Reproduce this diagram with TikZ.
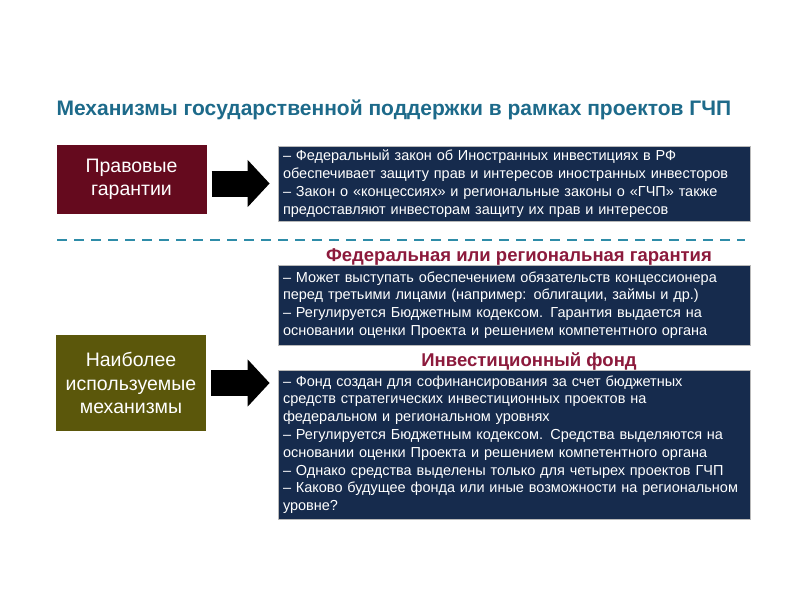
\documentclass[tikz,border=0pt]{standalone}
\usepackage{fontspec}
\setmainfont{Liberation Sans}
\usetikzlibrary{arrows.meta}

\definecolor{titleteal}{HTML}{1D6A8A}
\definecolor{dashteal}{HTML}{2E8CA8}
\definecolor{maroonbox}{HTML}{650A1E}
\definecolor{olivebox}{HTML}{5B570B}
\definecolor{navybox}{HTML}{162B4D}
\definecolor{headred}{HTML}{8C1A3C}

\begin{document}
\begin{tikzpicture}[x=1pt,y=-1pt,
    leftbox/.style={minimum width=150pt,align=center,text=white,inner sep=0pt,font=\fontsize{19.5}{23.5}\selectfont},
    textbox/.style={draw=gray!55,line width=0.8pt,fill=navybox,text=white,text width=462pt,inner xsep=5pt,inner ysep=2pt,align=left,font=\fontsize{14.5}{17.8}\selectfont},
    heading/.style={anchor=base,text=headred,font=\bfseries\fontsize{18.5}{21}\selectfont},
    bigarrow/.style={line width=26pt,-{Triangle[length=22pt,width=46pt]},shorten <=5pt,shorten >=8pt}]
    \useasboundingbox (0,0) rectangle (800,600);

    \node (title) at (53,115) [anchor=base west,text=titleteal,font=\bfseries\fontsize{21}{24}\selectfont] {Механизмы государственной поддержки в рамках проектов ГЧП};

    \node (pravo) at (131.5,179.5) [leftbox,fill=maroonbox,minimum height=69pt] {Правовые\\гарантии};
    \node (lawbox) at (514,183.5) [textbox,minimum height=75pt] {– Федеральный закон об Иностранных инвестициях в РФ\\обеспечивает защиту прав и интересов иностранных инвесторов\\– Закон о «концессиях» и региональные законы о «ГЧП» также\\предоставляют инвесторам защиту их прав и интересов};

    \draw[dashteal,line width=2.5pt,dash pattern=on 10pt off 7pt] (57,240) -- (745,240);

    \node (garhead) at (519,261) [heading] {Федеральная или региональная гарантия};
    \node (garbox) at (514,305) [textbox,minimum height=80pt] {– Может выступать обеспечением обязательств концессионера\\перед третьими лицами (например: облигации, займы и др.)\\– Регулируется Бюджетным кодексом. Гарантия выдается на\\основании оценки Проекта и решением компетентного органа};

    \node (mech) at (131,383) [leftbox,fill=olivebox,minimum height=96pt] {Наиболее\\используемые\\механизмы};
    \node (fundhead) at (529,366) [heading] {Инвестиционный фонд};
    \node (fundbox) at (514,444.5) [textbox,minimum height=149pt] {– Фонд создан для софинансирования за счет бюджетных\\средств стратегических инвестиционных проектов на\\федеральном и региональном уровнях\\– Регулируется Бюджетным кодексом. Средства выделяются на\\основании оценки Проекта и решением компетентного органа\\– Однако средства выделены только для четырех проектов ГЧП\\– Каково будущее фонда или иные возможности на региональном\\уровне?};

    \draw[bigarrow] (lawbox.west -| pravo.east) -- (lawbox.west);
    \draw[bigarrow] (mech.east) -- (mech.east -| fundbox.west);

\end{tikzpicture}
\end{document}
